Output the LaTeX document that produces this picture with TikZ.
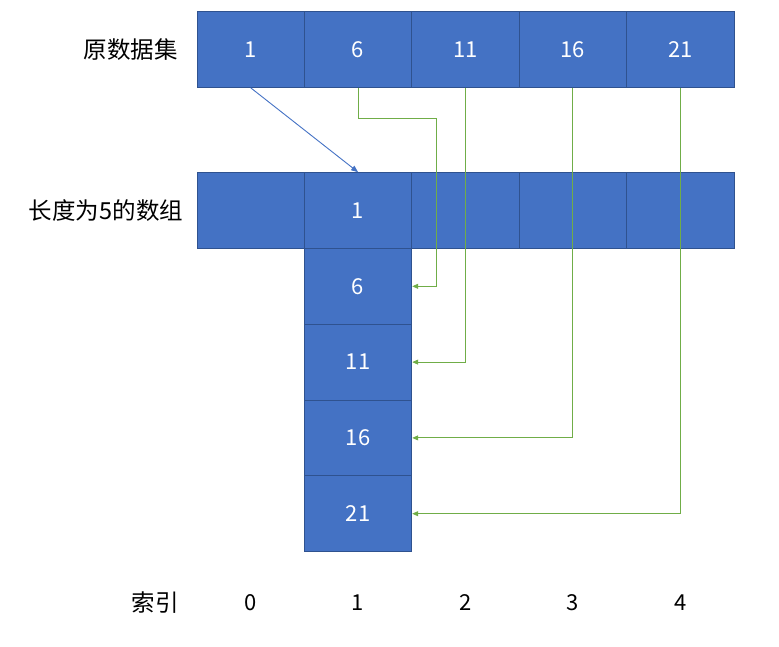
\documentclass[tikz,border=0pt]{standalone}
\usepackage{fontspec}
\setmainfont{Noto Sans CJK SC}
\usetikzlibrary{arrows.meta,calc}
\definecolor{cellfill}{HTML}{4472C4}
\definecolor{cellline}{HTML}{2F528F}
\definecolor{grn}{HTML}{70AD47}
\begin{document}
\begin{tikzpicture}[x=1pt,y=-1pt,
  cell/.style={draw=cellline,fill=cellfill,line width=0.8pt,minimum width=107.4pt,minimum height=75.8pt,inner sep=0pt,text=white,font=\fontsize{22}{26}\selectfont,anchor=center},
  lbl/.style={font=\fontsize{23.5}{28}\selectfont,text=black,inner sep=0pt},
  idx/.style={font=\fontsize{22}{26}\selectfont,text=black,inner sep=0pt},
  garrow/.style={draw=grn,line width=0.9pt,-{Triangle[length=6pt,width=5pt]}},
  barrow/.style={draw=cellfill,line width=0.9pt,-{Triangle[length=7pt,width=5.5pt]}}]
\useasboundingbox (0,0) rectangle (779,646);
% top row
\foreach \i/\v in {0/1,1/6,2/11,3/16,4/21}{
  \node[cell] (t\i) at ({250.7+107.4*\i},49.5) {\v};
}
% second row
\node[cell] (a0) at (250.7,210.5) {};
\node[cell] (a1) at (358.1,210.5) {1};
\node[cell] (a2) at (465.5,210.5) {};
\node[cell] (a3) at (572.9,210.5) {};
\node[cell] (a4) at (680.3,210.5) {};
% column
\node[cell] (c1) at (358.1,286.3) {6};
\node[cell] (c2) at (358.1,362.1) {11};
\node[cell] (c3) at (358.1,437.9) {16};
\node[cell] (c4) at (358.1,513.7) {21};
% labels
\node[lbl] (l1) at (130.5,50) {原数据集};
\node[lbl] (l2) at (106,211) {长度为5的数组};
\node[lbl] (l3) at (155,603) {索引};
\foreach \i in {0,...,4}{
  \node[idx] (i\i) at ({250.7+107.4*\i},603) {\i};
}
% connectors
\draw[barrow] (t0.south) -- (a1.north);
\coordinate (g1) at (436,118);
\draw[garrow] (t1.south) |- (g1) |- (c1.east);
\draw[garrow] (t2.south) |- (c2.east);
\draw[garrow] (t3.south) |- (c3.east);
\draw[garrow] (t4.south) |- (c4.east);
\end{tikzpicture}
\end{document}
